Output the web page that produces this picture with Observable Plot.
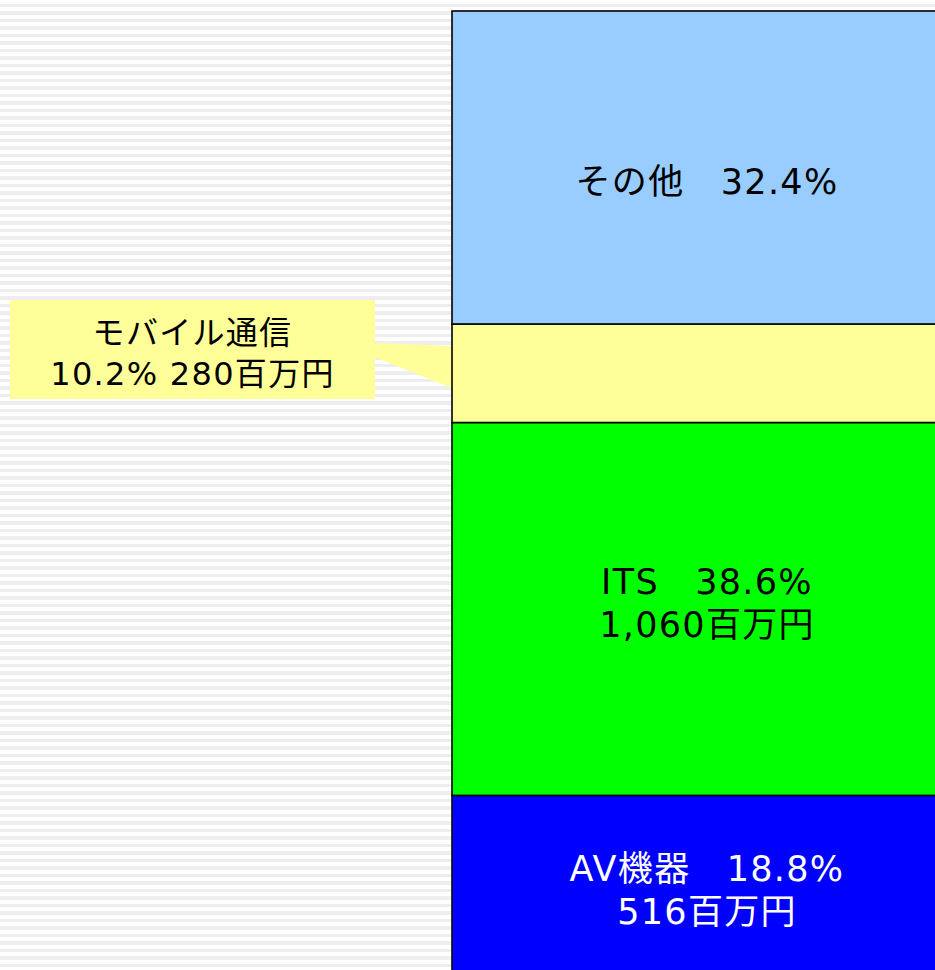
<!DOCTYPE html>
<html>
<head>
<meta charset="utf-8">
<script src="https://cdn.jsdelivr.net/npm/d3@7"></script>
<script src="https://cdn.jsdelivr.net/npm/@observablehq/plot@0.6"></script>
<style>
  html, body { margin: 0; padding: 0; background: #fff; }
  #chart svg { display: block; }
  #chart text { letter-spacing: 1.3px; }
</style>
</head>
<body>
<div id="chart"></div>
<script>
// Data
const categories = ["AV機器", "ITS", "モバイル通信", "その他"];
const shares = [18.8, 38.6, 10.2, 32.4];       // percent
const amounts = [516, 1060, 280, null];         // 百万円
const groups = ["総額"];

const table = categories.map((c, i) => ({
  group: groups[0],
  category: c,
  share: shares[i],
  amount: amounts[i]
}));

const fmt = d3.format(",");
const barLabel = d =>
  `${d.category}\u3000${d.share.toFixed(1)}%` +
  (d.amount != null ? `\n${fmt(d.amount)}百万円` : "");

const FONT = "'DejaVu Sans', 'Noto Sans CJK JP', sans-serif";

// Callout for the thin segment, anchored through the scales
function callout(index, scales) {
  const y = scales.y, x = scales.x;
  const i = categories.indexOf("モバイル通信");
  const base = d3.sum(shares.slice(0, i));
  const yTop = y(base + shares[i]);
  const xBar = x(groups[0]);
  const g = d3.create("svg:g");
  g.append("rect")
    .attr("x", 10).attr("y", yTop - 24)
    .attr("width", 365).attr("height", 99)
    .attr("fill", "#ffff99");
  g.append("polygon")
    .attr("points", [
      [374, yTop + 19], [xBar, yTop + 22], [xBar, yTop + 64], [374, yTop + 33]
    ].map(p => p.join(",")).join(" "))
    .attr("fill", "#ffff99");
  const d = table[i];
  const lines = [d.category, `${d.share.toFixed(1)}% ${fmt(d.amount)}百万円`];
  lines.forEach((t, k) => {
    g.append("text")
      .attr("x", 192.5).attr("y", yTop + 9 + k * 41)
      .attr("dy", "0.35em")
      .attr("text-anchor", "middle")
      .attr("font-family", FONT)
      .attr("font-size", 32)
      .attr("fill", "black")
      .text(t);
  });
  return g.node();
}

const plot = Plot.plot({
  width: 935,
  height: 970,
  margin: 0,
  style: {
    fontFamily: FONT,
    background: "repeating-linear-gradient(to bottom, #ffffff 0px, #ffffff 4px, #eeeeee 4px, #eeeeee 7.5px)"
  },
  x: { type: "band", domain: groups, range: [451.5, 961], padding: 0, axis: null },
  y: { domain: [0, 100], range: [977, 11], axis: null },
  color: {
    domain: categories,
    range: ["#0000ff", "#00ff00", "#ffff99", "#99ccff"]
  },
  marks: [
    callout,
    Plot.barY(table, {
      x: "group", y: "share", fill: "category",
      stroke: "black", strokeWidth: 1.6
    }),
    Plot.text(table, Plot.stackY({
      x: "group", y: "share",
      text: d => d.category === "ITS" ? barLabel(d) : null,
      fill: "black", fontSize: 35, lineHeight: 1.24, dy: -8
    })),
    Plot.text(table, Plot.stackY({
      x: "group", y: "share",
      text: d => d.category === "AV機器" ? barLabel(d) : null,
      fill: "white", fontSize: 35, lineHeight: 1.24, dy: 2
    })),
    Plot.text(table, Plot.stackY({
      x: "group", y: "share",
      text: d => d.category === "その他" ? barLabel(d) : null,
      fill: "black", fontSize: 35, dy: 15
    }))
  ]
});

document.getElementById("chart").appendChild(plot);
</script>
</body>
</html>
